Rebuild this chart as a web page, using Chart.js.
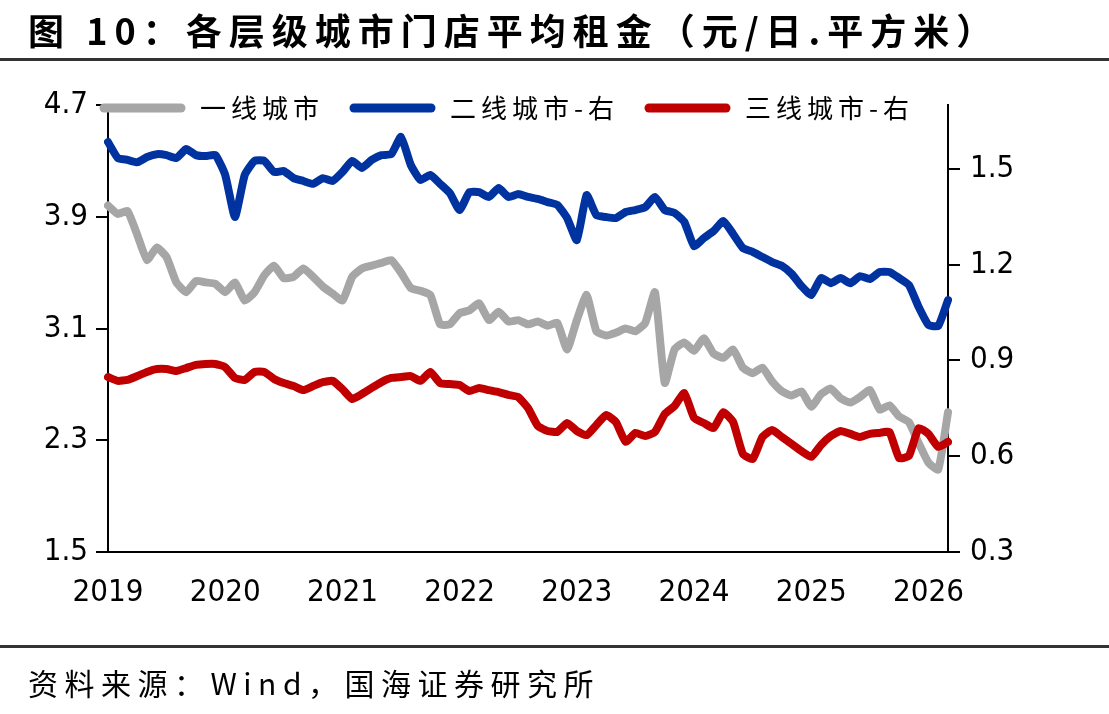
<!DOCTYPE html>
<html>
<head>
<meta charset="utf-8">
<script src="https://cdn.jsdelivr.net/npm/chart.js@4"></script>
<style>
	body { margin: 0; background: #fff; width: 1109px; height: 714px; position: relative; overflow: hidden; font-family: "Noto Sans CJK SC", sans-serif; }
	#wrap { position: absolute; left: 0; top: 0; width: 1109px; height: 714px; }
	#title { position: absolute; left: 28px; top: 3px; font-size: 36px; font-weight: bold; letter-spacing: 7px; color: #000; white-space: nowrap; z-index: 2; }
	.rule { position: absolute; left: 0; width: 1109px; height: 3px; background: #333; z-index: 2; }
	#source { position: absolute; left: 28px; top: 660px; font-size: 30px; letter-spacing: 6.5px; color: #000; white-space: nowrap; z-index: 2; }
</style>
</head>
<body>
<div id="title">图 10：各层级城市门店平均租金（元/日.平方米）</div>
<div class="rule" style="top:58px"></div>
<div id="wrap"><canvas id="myChart"></canvas></div>
<div class="rule" style="top:645px"></div>
<div id="source">资料来源：Wind，国海证券研究所</div>
<script>
// monthly points, Jan 2019 .. Mar 2026
const months = [];
for (let i = 0; i < 87; i++) {
	let y = 2019 + Math.floor(i / 12);
	let m = (i % 12) + 1;
	months.push(y + "-" + (m < 10 ? "0" + m : m));
}

const tier1 = [
	3.98, 3.92, 3.94, 3.77, 3.59, 3.68, 3.61, 3.43, 3.36, 3.44, 3.43, 3.42,
	3.36, 3.43, 3.30, 3.36, 3.48, 3.55, 3.46, 3.47, 3.53, 3.47, 3.40, 3.35,
	3.30, 3.47, 3.53, 3.55, 3.57, 3.59, 3.50, 3.39, 3.37, 3.34, 3.13, 3.13,
	3.21, 3.23, 3.28, 3.16, 3.22, 3.15, 3.16, 3.13, 3.15, 3.12, 3.14, 2.95,
	3.16, 3.34, 3.08, 3.05, 3.07, 3.10, 3.08, 3.14, 3.36, 2.71, 2.95, 3.00,
	2.94, 3.03, 2.92, 2.89, 2.95, 2.82, 2.78, 2.82, 2.72, 2.65, 2.62, 2.65,
	2.54, 2.63, 2.67, 2.60, 2.57, 2.61, 2.66, 2.52, 2.55, 2.47, 2.43, 2.28,
	2.14, 2.09, 2.50
];
const tier2 = [
	1.584, 1.534, 1.528, 1.521, 1.537, 1.546, 1.543, 1.534, 1.562, 1.543, 1.540, 1.543,
	1.481, 1.349, 1.481, 1.525, 1.525, 1.490, 1.493, 1.471, 1.462, 1.453, 1.471, 1.462,
	1.490, 1.525, 1.503, 1.528, 1.543, 1.546, 1.600, 1.512, 1.465, 1.481, 1.453, 1.424,
	1.371, 1.427, 1.427, 1.412, 1.440, 1.412, 1.421, 1.412, 1.406, 1.396, 1.387, 1.346,
	1.277, 1.418, 1.355, 1.349, 1.346, 1.365, 1.371, 1.380, 1.412, 1.371, 1.362, 1.334,
	1.258, 1.283, 1.305, 1.337, 1.296, 1.252, 1.240, 1.224, 1.208, 1.196, 1.171, 1.133,
	1.105, 1.158, 1.142, 1.158, 1.142, 1.164, 1.155, 1.177, 1.177, 1.158, 1.136, 1.067,
	1.011, 1.008, 1.089
];
const tier3 = [
	0.848, 0.836, 0.839, 0.851, 0.864, 0.873, 0.873, 0.867, 0.876, 0.886, 0.889, 0.889,
	0.879, 0.845, 0.839, 0.864, 0.864, 0.842, 0.829, 0.820, 0.807, 0.820, 0.832, 0.836,
	0.810, 0.779, 0.795, 0.814, 0.832, 0.845, 0.848, 0.851, 0.836, 0.864, 0.829, 0.826,
	0.823, 0.804, 0.814, 0.807, 0.801, 0.792, 0.785, 0.751, 0.695, 0.679, 0.676, 0.704,
	0.679, 0.666, 0.698, 0.729, 0.707, 0.645, 0.673, 0.663, 0.676, 0.732, 0.757, 0.798,
	0.720, 0.704, 0.688, 0.738, 0.707, 0.607, 0.591, 0.660, 0.682, 0.660, 0.638, 0.616,
	0.598, 0.635, 0.663, 0.679, 0.670, 0.660, 0.670, 0.673, 0.676, 0.594, 0.601, 0.688,
	0.670, 0.629, 0.645
];

const leftTicks = [1.5, 2.3, 3.1, 3.9, 4.7];
const rightTicks = [0.3, 0.6, 0.9, 1.2, 1.5];

const tickFont = { family: '"Liberation Sans Narrow", "DejaVu Sans Condensed", sans-serif', size: 31 };

// legend drawn over the top of the plot, like the original
const topLegend = {
	id: "topLegend",
	afterDraw(chart) {
		let ctx = chart.ctx;
		let area = chart.chartArea;
		let x = area.left - 8;
		let y = area.top + 3;
		ctx.save();
		ctx.font = '26px "Noto Sans CJK SC"';
		ctx.letterSpacing = "5px";
		ctx.textBaseline = "middle";
		chart.data.datasets.forEach((ds) => {
			ctx.strokeStyle = ds.borderColor;
			ctx.lineWidth = 9;
			ctx.lineCap = "round";
			ctx.beginPath();
			ctx.moveTo(x + 4, y);
			ctx.lineTo(x + 81, y);
			ctx.stroke();
			x += 100;
			ctx.fillStyle = "#000";
			ctx.fillText(ds.label, x, y);
			x += ctx.measureText(ds.label).width + 26;
		});
		ctx.restore();
	},
};

let ctx = document.getElementById("myChart");
let myChart = new Chart(ctx, {
	type: "line",
	data: {
		labels: months,
		datasets: [
			{
				label: "一线城市",
				data: tier1,
				yAxisID: "y",
				borderColor: "#A6A6A6",
				order: 3,
			},
			{
				label: "二线城市-右",
				data: tier2,
				yAxisID: "y1",
				borderColor: "#0033A0",
				order: 2,
			},
			{
				label: "三线城市-右",
				data: tier3,
				yAxisID: "y1",
				borderColor: "#C00000",
				order: 1,
			},
		],
	},
	options: {
		responsive: true,
		maintainAspectRatio: false,
		animation: false,
		layout: { padding: { top: 105, left: 0, right: 0, bottom: 0 } },
		elements: {
			line: { borderWidth: 8, tension: 0.15, borderJoinStyle: "round", borderCapStyle: "round", fill: false },
			point: { radius: 0 },
		},
		plugins: {
			legend: { display: false },
			tooltip: { enabled: false },
		},
		scales: {
			x: {
				offset: false,
				grid: { display: false, drawTicks: false },
				border: { display: true, color: "#000", width: 2 },
				ticks: {
					autoSkip: false,
					maxRotation: 0,
					padding: 22,
					color: "#000",
					font: tickFont,
					callback: function (val, i) {
						let lab = months[i];
						return lab.slice(5) === "01" ? lab.slice(0, 4) : "";
					},
				},
				afterFit: (axis) => { axis.height = 162; },
			},
			y: {
				position: "left",
				min: 1.5,
				max: 4.7,
				afterBuildTicks: (axis) => { axis.ticks = leftTicks.map((v) => ({ value: v })); },
				grid: { drawOnChartArea: false, drawTicks: true, tickLength: 12, color: "#000", lineWidth: 2 },
				border: { display: true, color: "#000", width: 2 },
				ticks: { padding: 8, color: "#000", font: tickFont, callback: (v) => v.toFixed(1) },
				afterFit: (axis) => { axis.width = 108; },
			},
			y1: {
				position: "right",
				min: 0.3,
				max: 1.7,
				afterBuildTicks: (axis) => { axis.ticks = rightTicks.map((v) => ({ value: v })); },
				grid: { drawOnChartArea: false, drawTicks: true, tickLength: 12, color: "#000", lineWidth: 2 },
				border: { display: true, color: "#000", width: 2 },
				ticks: { padding: 10, color: "#000", font: tickFont, callback: (v) => v.toFixed(1) },
				afterFit: (axis) => { axis.width = 161; },
			},
		},
	},
	plugins: [topLegend],
});
</script>
</body>
</html>
